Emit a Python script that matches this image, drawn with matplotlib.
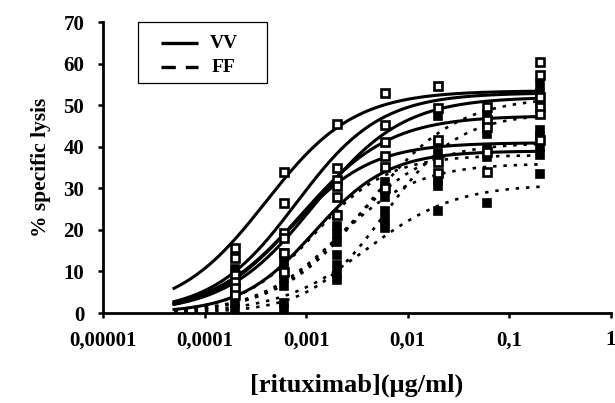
import numpy as np
from matplotlib import pyplot as plt
from matplotlib.patches import Rectangle

# rituximab concentrations (ug/ml) of the measured points
conc = [0.0002, 0.0006, 0.002, 0.006, 0.02, 0.06, 0.2]

# % specific lysis, VV donors (open squares), one list per concentration
vv_points = [
    [15.6, 13.2, 9.1, 7.5, 6.0, 4.3],
    [34.0, 26.5, 19.2, 18.0, 14.4, 9.9],
    [45.5, 34.9, 32.0, 30.5, 28.0, 23.6],
    [52.9, 45.2, 41.1, 37.8, 35.1, 30.0],
    [54.6, 49.3, 41.6, 36.3, 33.7],
    [49.5, 46.4, 44.7, 38.7, 34.0],
    [60.4, 57.3, 52.0, 49.5, 48.0, 41.6],
]

# FF donors (filled squares)
ff_points = [
    [10.5, 8.5, 6.5, 4.5, 2.5, 1.0],
    [14.5, 12.5, 10.5, 8.5, 6.5, 2.5, 1.0],
    [23.5, 21.0, 19.0, 17.0, 14.0, 11.5, 9.5, 8.0],
    [31.5, 29.5, 28.0, 24.5, 22.5, 20.5],
    [47.5, 41.0, 38.5, 32.0, 30.5, 24.5],
    [48.0, 45.5, 43.0, 39.5, 37.5, 26.5],
    [55.0, 53.0, 50.5, 44.0, 42.5, 40.0, 38.0, 33.5],
]

# fitted dose-response curves: top, EC50, hill slope
vv_top = [53.5, 53.0, 52.0, 47.5, 41.0, 39.0]
vv_ec50 = [0.0004, 0.0008, 0.0012, 0.0009, 0.0007, 0.0012]
vv_hill = [1.0, 1.05, 1.0, 1.0, 1.1, 1.2]

ff_top = [52.0, 41.0, 36.0, 31.0, 38.0, 48.0]
ff_ec50 = [0.004, 0.0025, 0.002, 0.004, 0.0012, 0.006]
ff_hill = [1.0, 1.1, 1.1, 1.0, 1.2, 1.2]

curve_start = 0.00005
curve_end = 0.2

plt.rcParams['font.family'] = ['Liberation Serif', 'DejaVu Serif']
plt.rcParams['font.weight'] = 'bold'

fig = plt.figure(figsize=(6.15, 4.03), dpi=100)
ax = fig.add_axes([0.1675, 0.2233, 0.826, 0.7217])

xs = np.logspace(np.log10(curve_start), np.log10(curve_end), 200)

#dotted FF curves
for top, ec, h in zip(ff_top, ff_ec50, ff_hill):
    ax.plot(xs, top / (1 + (ec / xs) ** h), color='black', lw=1.9,
            linestyle=(0, (1.3, 2.6)), zorder=2)

#solid VV curves
for top, ec, h in zip(vv_top, vv_ec50, vv_hill):
    ax.plot(xs, top / (1 + (ec / xs) ** h), color='black', lw=2.2, zorder=3)

# points
for c, vals in zip(conc, ff_points):
    ax.plot([c] * len(vals), vals, 's', ms=5.4, mfc='black', mec='black',
            mew=1.2, linestyle='none', zorder=4)
for c, vals in zip(conc, vv_points):
    ax.plot([c] * len(vals), vals, 's', ms=5.4, mfc='white', mec='black',
            mew=1.9, linestyle='none', zorder=5)

ax.set_xscale('log')
ax.set_xlim(0.00001, 1)
ax.set_ylim(0, 70)

ax.set_xticks([0.00001, 0.0001, 0.001, 0.01, 0.1, 1])
ax.set_xticklabels(['0,00001', '0,0001', '0,001', '0,01', '0,1', '1'])
ax.xaxis.set_minor_locator(plt.NullLocator())
ax.set_yticks(range(0, 71, 10))

ax.spines['top'].set_visible(False)
ax.spines['right'].set_visible(False)
ax.spines['left'].set_linewidth(2.0)
ax.spines['bottom'].set_linewidth(2.0)
ax.tick_params(axis='both', direction='out', length=3.5, width=1.8,
               labelsize=15)
ax.tick_params(axis='y', pad=10)
ax.tick_params(axis='x', pad=9)

ax.set_xlabel('[rituximab](\u03bcg/ml)', fontsize=19, fontweight='bold',
              labelpad=17)
ax.set_ylabel('% specific lysis', fontsize=15.5, fontweight='bold',
              labelpad=9)

# legend box drawn by hand to match the boxed key
ax.add_patch(Rectangle((0.069, 0.79), 0.254, 0.21, transform=ax.transAxes,
                       facecolor='white', edgecolor='black', lw=0.9,
                       zorder=6, clip_on=False))
ax.plot([0.114, 0.187], [0.928, 0.928], transform=ax.transAxes,
        color='black', lw=2.4, zorder=7, solid_capstyle='butt')
ax.plot([0.114, 0.187], [0.845, 0.845], transform=ax.transAxes,
        color='black', lw=2.4, linestyle=(0, (4.3, 3.0)), zorder=7)
ax.text(0.211, 0.928, 'VV', transform=ax.transAxes, fontsize=14,
        fontweight='bold', va='center', ha='left', zorder=7)
ax.text(0.213, 0.845, 'FF', transform=ax.transAxes, fontsize=14,
        fontweight='bold', va='center', ha='left', zorder=7)

fig.savefig('out.png', dpi=100)
